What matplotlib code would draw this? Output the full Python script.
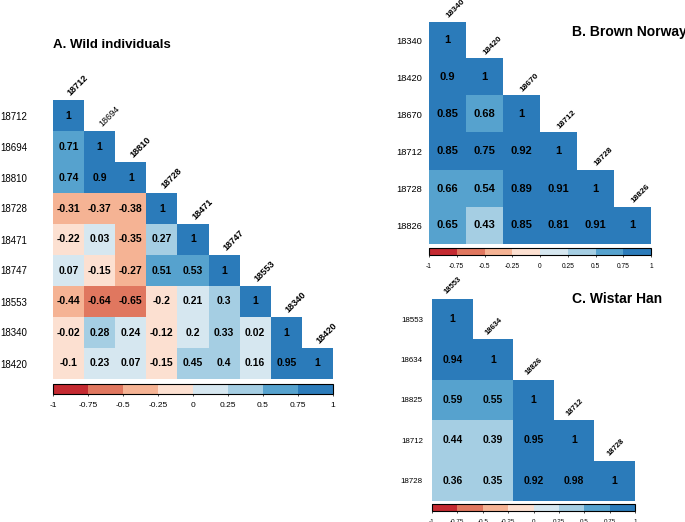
"""Correlation triangles for wild, Brown Norway and Wistar Han animals."""
import matplotlib
matplotlib.use("Agg")
import matplotlib.pyplot as plt
import numpy as np
from matplotlib.colors import BoundaryNorm, ListedColormap

plt.rcParams["font.family"] = ["Liberation Sans", "DejaVu Sans"]

# --- data -------------------------------------------------------------
wild_ids = ["18712", "18694", "18810", "18728", "18471",
            "18747", "18553", "18340", "18420"]
wild_rows = [
    [1],
    [0.71, 1],
    [0.74, 0.9, 1],
    [-0.31, -0.37, -0.38, 1],
    [-0.22, 0.03, -0.35, 0.27, 1],
    [0.07, -0.15, -0.27, 0.51, 0.53, 1],
    [-0.44, -0.64, -0.65, -0.2, 0.21, 0.3, 1],
    [-0.02, 0.28, 0.24, -0.12, 0.2, 0.33, 0.02, 1],
    [-0.1, 0.23, 0.07, -0.15, 0.45, 0.4, 0.16, 0.95, 1],
]

bn_ids = ["18340", "18420", "18670", "18712", "18728", "18826"]
bn_rows = [
    [1],
    [0.9, 1],
    [0.85, 0.68, 1],
    [0.85, 0.75, 0.92, 1],
    [0.66, 0.54, 0.89, 0.91, 1],
    [0.65, 0.43, 0.85, 0.81, 0.91, 1],
]

wh_row_ids = ["18553", "18634", "18825", "18712", "18728"]
wh_col_ids = ["18553", "18634", "18826", "18712", "18728"]
wh_rows = [
    [1],
    [0.94, 1],
    [0.59, 0.55, 1],
    [0.44, 0.39, 0.95, 1],
    [0.36, 0.35, 0.92, 0.98, 1],
]

cbar_ticks = [-1, -0.75, -0.5, -0.25, 0, 0.25, 0.5, 0.75, 1]
cbar_labels = ["-1", "-0.75", "-0.5", "-0.25", "0", "0.25", "0.5", "0.75", "1"]

colors = ["#C42A31", "#E0775F", "#F5B394", "#FCE0D1",
          "#D6E7F0", "#A5CEE3", "#56A2CE", "#2B7BBA"]
cmap = ListedColormap(colors)
norm = BoundaryNorm(cbar_ticks, cmap.N)

W, H = 685, 522
fig = plt.figure(figsize=(W / 100, H / 100), dpi=100)


def px(x, y, w, h):
    return [x / W, 1 - (y + h) / H, w / W, h / H]


def tri(rows):
    n = len(rows)
    m = np.full((n, n), np.nan)
    for i, r in enumerate(rows):
        m[i, :len(r)] = r
    return np.ma.masked_invalid(m)


def panel(box, cbox, rows, row_ids, col_ids, num_fs, row_fs, col_fs,
          tick_fs, row_pad, col_dx, normal_cols=()):
    ax = fig.add_axes(px(*box))
    m = tri(rows)
    n = len(rows)
    ax.imshow(m, cmap=cmap, norm=norm, aspect="auto",
              extent=(-0.5, n - 0.5, n - 0.5, -0.5))
    for i, r in enumerate(rows):
        for j, v in enumerate(r):
            ax.text(j, i, f"{v:g}", ha="center", va="center",
                    fontsize=num_fs, fontweight="bold", color="black")
    for j, lab in enumerate(col_ids):
        ax.text(j + col_dx, j - 0.58, lab, rotation=45,
                rotation_mode="anchor", ha="left", va="bottom",
                fontsize=col_fs,
                fontweight="normal" if j in normal_cols else "bold",
                clip_on=False)
    ax.set_xlim(-0.5, n - 0.5)
    ax.set_ylim(n - 0.5, -0.5)
    ax.set_xticks([])
    ax.set_yticks(range(n))
    ax.set_yticklabels(row_ids, fontsize=row_fs)
    ax.tick_params(axis="y", length=0, pad=row_pad)
    for s in ax.spines.values():
        s.set_visible(False)

    cax = fig.add_axes(px(*cbox))
    cb = fig.colorbar(plt.cm.ScalarMappable(norm=norm, cmap=cmap), cax=cax,
                      orientation="horizontal", ticks=cbar_ticks)
    cb.set_ticklabels(cbar_labels)
    cb.outline.set_linewidth(0.8)
    cax.tick_params(labelsize=tick_fs, length=1.5, width=0.5, pad=4)
    return ax


panel((53, 100, 280, 279), (53, 384, 280, 10), wild_rows, wild_ids,
      wild_ids, 7.5, 7, 6.6, 6, 18.5, 0.12, normal_cols=(1,))
panel((429, 22, 222, 222), (429, 248, 222, 7), bn_rows, bn_ids,
      bn_ids, 8, 6.7, 6, 4.8, 5, 0.05)
panel((432, 299, 203, 202), (432, 504, 203, 7), wh_rows, wh_row_ids,
      wh_col_ids, 7.5, 5.7, 5.5, 4.5, 6.5, -0.1)

fig.text(53 / W, 1 - 45 / H, "A. Wild individuals", fontsize=9.5,
         fontweight="bold", ha="left", va="center")
fig.text(572 / W, 1 - 32 / H, "B. Brown Norway", fontsize=10,
         fontweight="bold", ha="left", va="center")
fig.text(572 / W, 1 - 299 / H, "C. Wistar Han", fontsize=10,
         fontweight="bold", ha="left", va="center")

fig.savefig("out.png", dpi=100)
